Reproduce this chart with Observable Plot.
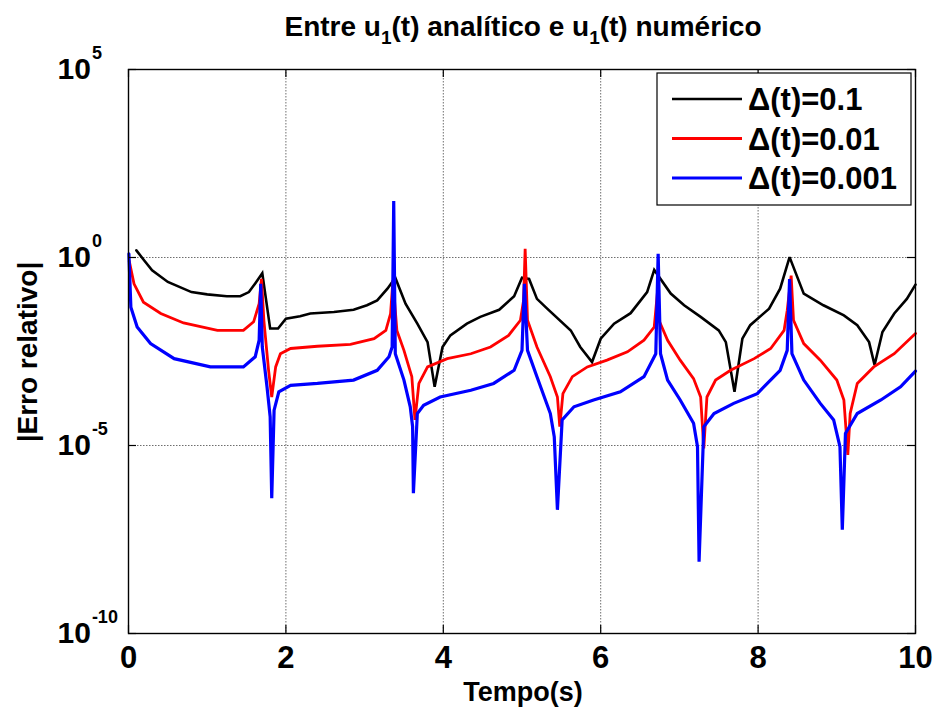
<!DOCTYPE html>
<html>
<head>
<meta charset="utf-8">
<script src="https://cdn.jsdelivr.net/npm/d3@7"></script>
<script src="https://cdn.jsdelivr.net/npm/@observablehq/plot@0.6"></script>
<style>
  body { margin: 0; background: #fff; }
  #chart { width: 935px; height: 712px; }
  svg { font-family: "Liberation Sans", Arial, Helvetica, sans-serif; font-weight: bold; }
</style>
</head>
<body>
<div id="chart"></div>
<script>
// ---- Data ----
const titleParts = ["Entre u", "1", "(t) analítico e u", "1", "(t) numérico"];
const xLabel = "Tempo(s)";
const yLabel = "|Erro relativo|";
const seriesNames = ["Δ(t)=0.1", "Δ(t)=0.01", "Δ(t)=0.001"];
const seriesColors = ["#000000", "#ff0000", "#0000ff"];
const seriesWidths = [2.6, 2.8, 3.2];

const xTicks = [0, 2, 4, 6, 8, 10];
const xGrid = [2, 4, 6, 8];
const yTicks = [1e5, 1, 1e-5, 1e-10];
const yGrid = [1, 1e-5];
const yTickBase = ["10", "10", "10", "10"];
const yTickExp = ["5", "0", "-5", "-10"];

// series: time (s) and log10 of the relative error
const tBlack = [0.1, 0.2, 0.3, 0.5, 0.8, 1.0, 1.25, 1.42, 1.53, 1.61, 1.7, 1.8, 1.9, 2.0, 2.18, 2.31, 2.61, 2.86, 3.03, 3.16, 3.29, 3.39, 3.52, 3.67, 3.8, 3.89, 3.99, 4.09, 4.3, 4.47, 4.71, 4.9, 5.0, 5.09, 5.19, 5.32, 5.62, 5.74, 5.89, 6.0, 6.17, 6.38, 6.59, 6.68, 6.89, 7.06, 7.27, 7.5, 7.59, 7.7, 7.8, 7.9, 8.14, 8.28, 8.4, 8.58, 8.83, 9.09, 9.26, 9.41, 9.48, 9.58, 9.73, 9.89, 10.0];
const eBlack = [0.19, -0.08, -0.34, -0.65, -0.92, -0.98, -1.03, -1.03, -0.92, -0.69, -0.42, -1.89, -1.89, -1.63, -1.56, -1.49, -1.45, -1.39, -1.27, -1.14, -0.83, -0.54, -1.23, -1.76, -2.25, -3.44, -2.38, -2.07, -1.76, -1.58, -1.39, -1.03, -0.54, -0.57, -1.10, -1.36, -1.94, -2.38, -2.78, -2.16, -1.76, -1.48, -0.92, -0.33, -0.96, -1.27, -1.58, -1.94, -2.25, -3.57, -2.16, -1.80, -1.36, -0.83, 0.01, -0.96, -1.27, -1.54, -1.80, -2.25, -2.86, -1.98, -1.49, -1.10, -0.72];

const tRed = [0.01, 0.07, 0.19, 0.41, 0.70, 1.13, 1.46, 1.59, 1.66, 1.69, 1.72, 1.78, 1.82, 1.87, 1.93, 2.06, 2.40, 2.82, 3.12, 3.27, 3.33, 3.36, 3.41, 3.50, 3.60, 3.64, 3.69, 3.80, 4.05, 4.35, 4.60, 4.83, 4.98, 5.02, 5.04, 5.07, 5.19, 5.36, 5.45, 5.48, 5.52, 5.64, 5.83, 6.08, 6.34, 6.55, 6.68, 6.72, 6.74, 6.85, 7.01, 7.18, 7.27, 7.31, 7.35, 7.46, 7.65, 7.95, 8.16, 8.33, 8.37, 8.42, 8.45, 8.58, 8.79, 9.0, 9.09, 9.14, 9.17, 9.26, 9.47, 9.73, 10.0];
const eRed = [-0.1, -0.70, -1.19, -1.49, -1.74, -1.94, -1.94, -1.71, -1.23, -0.57, -1.67, -3.0, -3.71, -2.91, -2.56, -2.42, -2.36, -2.31, -2.16, -1.94, -1.49, -0.61, -1.94, -2.47, -3.17, -4.32, -3.35, -2.91, -2.69, -2.56, -2.38, -2.07, -1.67, -1.14, 0.23, -1.67, -2.38, -3.17, -3.71, -4.50, -3.62, -3.17, -2.91, -2.73, -2.51, -2.20, -1.85, -0.95, -1.67, -2.2, -2.73, -3.22, -3.71, -5.08, -3.71, -3.26, -3.0, -2.69, -2.42, -1.94, -1.41, -0.48, -1.67, -2.29, -2.73, -3.26, -3.79, -5.25, -4.15, -3.35, -2.91, -2.56, -2.02];

const tBlue = [0.005, 0.03, 0.11, 0.28, 0.58, 1.04, 1.46, 1.61, 1.66, 1.68, 1.70, 1.76, 1.80, 1.82, 1.85, 1.91, 2.06, 2.40, 2.86, 3.16, 3.31, 3.35, 3.37, 3.39, 3.50, 3.58, 3.61, 3.62, 3.67, 3.75, 3.96, 4.35, 4.64, 4.90, 5.0, 5.03, 5.07, 5.19, 5.36, 5.41, 5.45, 5.51, 5.66, 5.91, 6.25, 6.55, 6.70, 6.73, 6.76, 6.85, 7.01, 7.18, 7.23, 7.25, 7.31, 7.44, 7.69, 7.99, 8.28, 8.37, 8.40, 8.43, 8.58, 8.79, 8.96, 9.04, 9.07, 9.11, 9.26, 9.56, 9.81, 10.0];
const eBlue = [0.1, -1.32, -1.85, -2.29, -2.69, -2.91, -2.91, -2.64, -2.20, -0.70, -2.38, -3.44, -4.24, -6.40, -4.06, -3.57, -3.40, -3.35, -3.26, -3.00, -2.64, -2.38, 1.5, -2.56, -3.26, -3.97, -4.50, -6.27, -4.15, -3.93, -3.71, -3.53, -3.35, -3.00, -2.47, -0.70, -2.47, -3.17, -4.15, -4.77, -6.71, -4.32, -3.97, -3.79, -3.57, -3.17, -2.56, 0.10, -2.56, -3.26, -3.79, -4.41, -5.03, -8.09, -4.50, -4.15, -3.88, -3.62, -3.00, -2.47, -0.57, -2.56, -3.26, -3.88, -4.32, -5.03, -7.24, -4.68, -4.15, -3.79, -3.44, -3.02];

// ---- Build table ----
const seriesData = [[tBlack, eBlack], [tRed, eRed], [tBlue, eBlue]];
const rows = [];
seriesData.forEach(([ts, es], i) => ts.forEach((t, j) => rows.push({ t, err: Math.pow(10, es[j]), s: seriesNames[i] })));

// ---- Layout ----
const W = 935, H = 712, mL = 128, mR = 20, mT = 69, mB = 79;
const iw = W - mL - mR, ih = H - mT - mB;
const tickLen = 8;
const font = '"Liberation Sans", Arial, Helvetica, sans-serif';

const gridStyle = { stroke: "#6e6e6e", strokeOpacity: 1, strokeWidth: 1, strokeDasharray: "1.5,1.5" };

const plot = Plot.plot({
  width: W, height: H,
  marginLeft: mL, marginRight: mR, marginTop: mT, marginBottom: mB,
  style: { fontFamily: font, fontWeight: "bold", background: "white", color: "black" },
  x: { domain: [0, 10] },
  y: { type: "log", domain: [1e-10, 1e5] },
  marks: [
    Plot.gridX(xGrid, gridStyle),
    Plot.gridY(yGrid, gridStyle),
    ...seriesNames.map((name, i) =>
      Plot.lineY(rows.filter(r => r.s === name), { x: "t", y: "err", stroke: seriesColors[i], strokeWidth: seriesWidths[i], strokeLinejoin: "miter", strokeMiterlimit: 3 })
    ),
    Plot.tickX(xTicks, { x: d => d, insetTop: ih - tickLen, stroke: "black", strokeWidth: 1.2 }),
    Plot.tickX(xTicks, { x: d => d, insetBottom: ih - tickLen, stroke: "black", strokeWidth: 1.2 }),
    Plot.tickY(yTicks, { y: d => d, insetRight: iw - tickLen, stroke: "black", strokeWidth: 1.2 }),
    Plot.tickY(yTicks, { y: d => d, insetLeft: iw - tickLen, stroke: "black", strokeWidth: 1.2 }),
    Plot.frame({ stroke: "black", strokeWidth: 1.4 }),
    Plot.axisX(xTicks, { tickSize: 0, tickPadding: 12, fontSize: 31, label: null, tickFormat: d => String(d) }),
    Plot.axisY(yTicks, { tickSize: 0, tickPadding: 71, textAnchor: "start", fontSize: 30, label: null,
      tickFormat: d => { const i = yTicks.indexOf(d); return yTickBase[i] + "^" + yTickExp[i]; } })
  ]
});

document.getElementById("chart").appendChild(plot);
const svg = d3.select(plot);

// superscripts on y tick labels
svg.selectAll('g[aria-label="y-axis tick label"] text').each(function () {
  const s = d3.select(this);
  const [base, exp] = s.text().split("^");
  s.text(null);
  s.append("tspan").text(base);
  s.append("tspan").attr("font-size", 18).attr("dx", 1).attr("dy", -20).text(exp);
});

// title with subscripts
const title = svg.append("text")
  .attr("x", 523).attr("y", 36)
  .attr("text-anchor", "middle")
  .attr("font-family", font).attr("font-weight", "bold").attr("font-size", 28).attr("fill", "black");
titleParts.forEach((p, i) => {
  const isSub = i % 2 === 1;
  const ts = title.append("tspan").text(p);
  if (isSub) ts.attr("font-size", 19).attr("dy", 8);
  else if (i > 0) ts.attr("dy", -8);
});

// axis labels
svg.append("text")
  .attr("x", 523).attr("y", 701)
  .attr("text-anchor", "middle")
  .attr("font-family", font).attr("font-weight", "bold").attr("font-size", 27).attr("fill", "black")
  .text(xLabel);
svg.append("text")
  .attr("transform", "translate(37,352) rotate(-90)")
  .attr("text-anchor", "middle")
  .attr("font-family", font).attr("font-weight", "bold").attr("font-size", 28).attr("fill", "black")
  .text(yLabel);

// legend
const lg = svg.append("g");
lg.append("rect").attr("x", 657).attr("y", 73).attr("width", 254).attr("height", 132)
  .attr("fill", "white").attr("stroke", "black").attr("stroke-width", 1.2);
seriesNames.forEach((name, i) => {
  const cy = 99 + i * 39.5;
  lg.append("line").attr("x1", 672).attr("x2", 742).attr("y1", cy).attr("y2", cy)
    .attr("stroke", seriesColors[i]).attr("stroke-width", seriesWidths[i]);
  lg.append("text").attr("x", 748).attr("y", cy + 11)
    .attr("text-anchor", "start")
    .attr("font-family", font).attr("font-weight", "bold").attr("font-size", 31).attr("fill", "black")
    .text(name);
});
</script>
</body>
</html>
